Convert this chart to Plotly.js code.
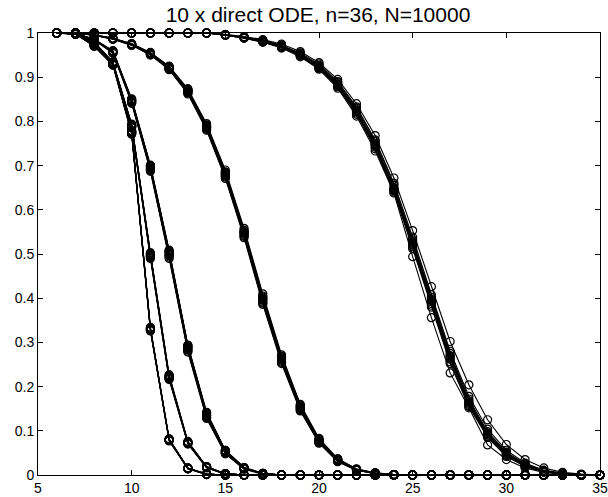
<!DOCTYPE html>
<html>
<head>
<meta charset="utf-8">
<script src="https://cdn.plot.ly/plotly-3.0.1.min.js"></script>
<style>html,body{margin:0;padding:0;background:#fff}#chart{width:608px;height:497px}</style>
</head>
<body>
<div id="chart"></div>
<script>
// x positions (integer steps 6..35)
const xSteps = [6,7,8,9,10,11,12,13,14,15,16,17,18,19,20,21,22,23,24,25,26,27,28,29,30,31,32,33,34,35];

// Group A (steepest, 10 runs)
const runsA = [
 [1,.998,.972,.930,.776,.331,.080,.015,.002,0, 0,0,0,0,0,0,0,0,0,0,0,0,0,0,0,0,0,0,0,0],
 [1,.999,.974,.932,.779,.334,.082,.016,.002,0, 0,0,0,0,0,0,0,0,0,0,0,0,0,0,0,0,0,0,0,0],
 [1,.998,.970,.928,.772,.327,.078,.014,.002,0, 0,0,0,0,0,0,0,0,0,0,0,0,0,0,0,0,0,0,0,0],
 [1,.998,.973,.931,.777,.332,.081,.015,.002,0, 0,0,0,0,0,0,0,0,0,0,0,0,0,0,0,0,0,0,0,0],
 [1,.997,.971,.929,.774,.328,.079,.014,.001,0, 0,0,0,0,0,0,0,0,0,0,0,0,0,0,0,0,0,0,0,0],
 [1,.998,.972,.930,.775,.330,.080,.015,.002,0, 0,0,0,0,0,0,0,0,0,0,0,0,0,0,0,0,0,0,0,0],
 [1,.999,.973,.931,.778,.333,.081,.016,.002,0, 0,0,0,0,0,0,0,0,0,0,0,0,0,0,0,0,0,0,0,0],
 [1,.998,.971,.929,.773,.329,.079,.015,.001,0, 0,0,0,0,0,0,0,0,0,0,0,0,0,0,0,0,0,0,0,0],
 [1,.998,.972,.930,.776,.331,.080,.015,.002,0, 0,0,0,0,0,0,0,0,0,0,0,0,0,0,0,0,0,0,0,0],
 [1,.998,.970,.927,.771,.326,.077,.014,.001,0, 0,0,0,0,0,0,0,0,0,0,0,0,0,0,0,0,0,0,0,0]
];

// Group B
const runsB = [
 [1,.998,.978,.932,.790,.497,.222,.073,.018,.003,0, 0,0,0,0,0,0,0,0,0,0,0,0,0,0,0,0,0,0,0],
 [1,.999,.980,.935,.794,.503,.227,.076,.019,.003,0, 0,0,0,0,0,0,0,0,0,0,0,0,0,0,0,0,0,0,0],
 [1,.998,.977,.930,.787,.492,.218,.071,.017,.003,0, 0,0,0,0,0,0,0,0,0,0,0,0,0,0,0,0,0,0,0],
 [1,.998,.979,.933,.791,.499,.224,.074,.018,.003,0, 0,0,0,0,0,0,0,0,0,0,0,0,0,0,0,0,0,0,0],
 [1,.998,.978,.931,.789,.495,.220,.072,.017,.002,0, 0,0,0,0,0,0,0,0,0,0,0,0,0,0,0,0,0,0,0],
 [1,.999,.979,.934,.793,.501,.225,.075,.019,.003,0, 0,0,0,0,0,0,0,0,0,0,0,0,0,0,0,0,0,0,0],
 [1,.998,.977,.931,.788,.494,.219,.072,.017,.002,0, 0,0,0,0,0,0,0,0,0,0,0,0,0,0,0,0,0,0,0],
 [1,.998,.978,.932,.790,.498,.223,.073,.018,.003,0, 0,0,0,0,0,0,0,0,0,0,0,0,0,0,0,0,0,0,0],
 [1,.998,.978,.933,.792,.500,.221,.074,.018,.003,0, 0,0,0,0,0,0,0,0,0,0,0,0,0,0,0,0,0,0,0],
 [1,.997,.976,.929,.786,.490,.216,.070,.016,.002,0, 0,0,0,0,0,0,0,0,0,0,0,0,0,0,0,0,0,0,0]
];

// Group C
const runsC = [
 [1,.999,.985,.957,.846,.694,.500,.286,.135,.052,.015,.003,0, 0,0,0,0,0,0,0,0,0,0,0,0,0,0,0,0,0],
 [1,.999,.986,.960,.851,.701,.509,.294,.142,.056,.017,.004,0, 0,0,0,0,0,0,0,0,0,0,0,0,0,0,0,0,0],
 [1,.999,.984,.955,.842,.689,.493,.280,.130,.049,.014,.003,0, 0,0,0,0,0,0,0,0,0,0,0,0,0,0,0,0,0],
 [1,.999,.985,.958,.848,.697,.504,.290,.138,.054,.016,.003,0, 0,0,0,0,0,0,0,0,0,0,0,0,0,0,0,0,0],
 [1,.999,.985,.956,.844,.691,.496,.283,.132,.050,.014,.003,0, 0,0,0,0,0,0,0,0,0,0,0,0,0,0,0,0,0],
 [1,.999,.986,.959,.849,.699,.506,.292,.140,.055,.016,.004,0, 0,0,0,0,0,0,0,0,0,0,0,0,0,0,0,0,0],
 [1,.999,.984,.956,.845,.692,.498,.284,.134,.051,.015,.003,0, 0,0,0,0,0,0,0,0,0,0,0,0,0,0,0,0,0],
 [1,.999,.985,.957,.847,.695,.502,.288,.136,.053,.015,.003,0, 0,0,0,0,0,0,0,0,0,0,0,0,0,0,0,0,0],
 [1,.998,.984,.954,.841,.687,.490,.278,.128,.048,.013,.002,0, 0,0,0,0,0,0,0,0,0,0,0,0,0,0,0,0,0],
 [1,.999,.986,.958,.850,.700,.507,.293,.141,.056,.017,.004,0, 0,0,0,0,0,0,0,0,0,0,0,0,0,0,0,0,0]
];

// Group D
const runsD = [
 [1,1,.995,.987,.974,.953,.921,.868,.787,.680,.547,.397,.262,.152,.077,.033,.012,.004,.001,0, 0,0,0,0,0,0,0,0,0,0],
 [1,1,.996,.988,.976,.956,.925,.874,.795,.690,.558,.410,.272,.160,.083,.037,.014,.005,.001,0, 0,0,0,0,0,0,0,0,0,0],
 [1,1,.995,.986,.972,.950,.917,.862,.780,.671,.537,.386,.252,.145,.072,.030,.011,.003,.001,0, 0,0,0,0,0,0,0,0,0,0],
 [1,1,.995,.987,.975,.954,.923,.871,.791,.685,.552,.403,.267,.156,.080,.035,.013,.004,.001,0, 0,0,0,0,0,0,0,0,0,0],
 [1,1,.995,.987,.973,.952,.919,.865,.784,.676,.542,.391,.257,.148,.074,.031,.011,.004,.001,0, 0,0,0,0,0,0,0,0,0,0],
 [1,1,.996,.988,.975,.955,.924,.872,.792,.686,.554,.405,.269,.158,.081,.036,.013,.005,.001,0, 0,0,0,0,0,0,0,0,0,0],
 [1,1,.995,.986,.973,.951,.918,.864,.782,.674,.540,.389,.255,.147,.073,.031,.011,.003,.001,0, 0,0,0,0,0,0,0,0,0,0],
 [1,1,.995,.987,.974,.953,.921,.869,.788,.681,.548,.398,.263,.153,.078,.034,.012,.004,.001,0, 0,0,0,0,0,0,0,0,0,0],
 [1,1,.995,.987,.974,.952,.920,.867,.786,.678,.545,.395,.260,.150,.076,.032,.012,.004,.001,0, 0,0,0,0,0,0,0,0,0,0],
 [1,1,.996,.988,.975,.954,.922,.870,.789,.683,.550,.400,.265,.155,.079,.034,.013,.004,.001,0, 0,0,0,0,0,0,0,0,0,0]
];

// Group E (widest spread)
const runsE = [
 [1,1,1,1,1,1,1,1,1,.996,.990,.982,.970,.952,.925,.885,.826,.750,.650,.525,.395,.268,.165,.093,.048,.022,.009,.003,.001,0],
 [1,1,1,1,1,1,1,1,1,.997,.992,.985,.975,.958,.933,.895,.840,.768,.672,.553,.426,.302,.204,.125,.069,.035,.016,.006,.002,0],
 [1,1,1,1,1,1,1,1,1,.995,.989,.980,.967,.948,.920,.878,.816,.738,.640,.512,.380,.252,.155,.085,.042,.019,.007,.002,.001,0],
 [1,1,1,1,1,1,1,1,1,.996,.990,.981,.969,.950,.922,.882,.822,.745,.645,.520,.388,.262,.160,.090,.046,.021,.008,.003,.001,0],
 [1,1,1,1,1,1,1,1,1,.996,.991,.983,.971,.953,.927,.888,.830,.755,.656,.532,.402,.275,.172,.098,.052,.025,.010,.004,.001,0],
 [1,1,1,1,1,1,1,1,1,.995,.988,.979,.966,.946,.918,.875,.812,.733,.638,.494,.356,.231,.152,.068,.035,.016,.006,.002,0,0],
 [1,1,1,1,1,1,1,1,1,.996,.990,.982,.970,.951,.924,.884,.824,.748,.648,.522,.392,.265,.163,.091,.047,.022,.009,.003,.001,0],
 [1,1,1,1,1,1,1,1,1,.996,.991,.984,.972,.955,.930,.890,.833,.758,.660,.538,.408,.280,.178,.104,.056,.027,.011,.004,.001,0],
 [1,1,1,1,1,1,1,1,1,.995,.989,.980,.968,.949,.921,.880,.819,.742,.643,.516,.384,.256,.157,.087,.044,.020,.008,.003,.001,0],
 [1,1,1,1,1,1,1,1,1,.996,.990,.982,.969,.951,.923,.883,.823,.747,.647,.528,.398,.270,.168,.095,.050,.023,.009,.003,.001,0]
];

const xTicks = [5,10,15,20,25,30,35];
const yTicks = [0,0.1,0.2,0.3,0.4,0.5,0.6,0.7,0.8,0.9,1];
const titleText = "10 x direct ODE, n=36, N=10000";

const traces = [];
[runsA, runsB, runsC, runsD, runsE].forEach(group => {
  group.forEach(run => {
    traces.push({
      type: 'scatter', mode: 'lines+markers',
      x: xSteps, y: run,
      line: {color: '#000', width: 1.1},
      marker: {symbol: 'circle-open', size: 8, color: '#000', line: {width: 1.2, color: '#000'}},
      cliponaxis: false, showlegend: false, hoverinfo: 'skip'
    });
  });
});

const axisCommon = {
  showgrid: false, zeroline: false, showline: true, linecolor: '#000', linewidth: 1,
  mirror: 'ticks', ticks: 'inside', ticklen: 5, tickwidth: 1, tickcolor: '#000',
  tickfont: {family: 'Liberation Sans, Arial, sans-serif', size: 14, color: '#000'}
};

const layout = {
  width: 608, height: 497,
  margin: {l: 38, r: 8, t: 33, b: 22},
  paper_bgcolor: '#fff', plot_bgcolor: '#fff',
  title: {text: titleText, font: {family: 'Liberation Sans, Arial, sans-serif', size: 21, color: '#000'},
          x: 0.523, xanchor: 'center', y: 0.970, yanchor: 'middle'},
  xaxis: Object.assign({}, axisCommon, {range: [5, 35], tickvals: xTicks, ticktext: xTicks.map(String)}),
  yaxis: Object.assign({}, axisCommon, {range: [0, 1], tickvals: yTicks, ticktext: yTicks.map(String)}),
  hovermode: false
};

Plotly.newPlot('chart', traces, layout, {staticPlot: true, displayModeBar: false});
</script>
</body>
</html>
